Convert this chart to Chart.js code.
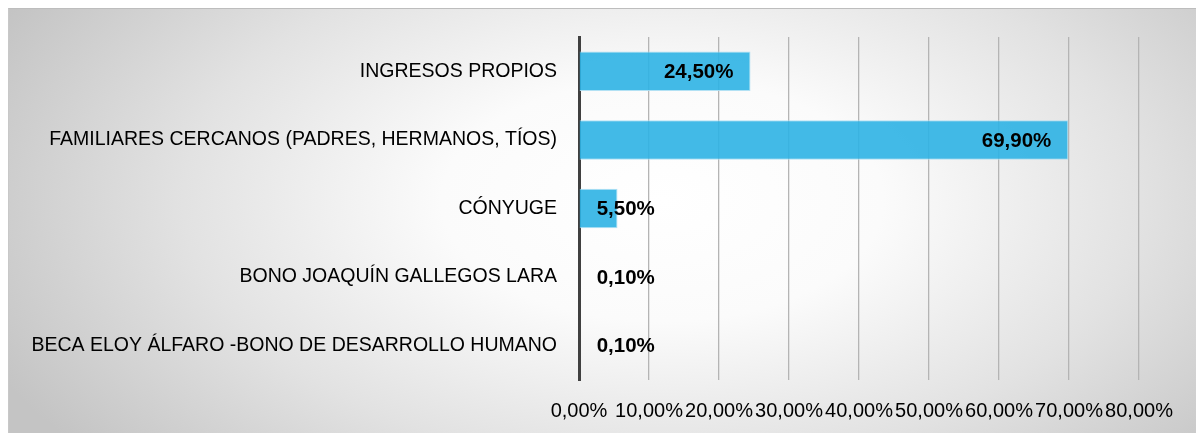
<!DOCTYPE html>
<html>
<head>
<meta charset="utf-8">
<script src="https://cdn.jsdelivr.net/npm/chart.js@4.4.1/dist/chart.umd.min.js"></script>
<style>
  html, body { margin: 0; padding: 0; background: #fff; }
  .wrap { position: relative; width: 1196px; height: 433px; overflow: hidden; }
  .bg {
    position: absolute; left: 8px; top: 8px; width: 1188px; height: 425px;
    border-top: 1px solid #bdbdbd; border-left: 1px solid #c8c8c8;
    background: radial-gradient(ellipse 62% 95% at 55% 45%, #ffffff 0%, #fbfbfb 30%, #e2e2e2 65%, #c4c4c4 100%);
  }
  canvas { position: absolute; left: 0; top: 0; }
</style>
</head>
<body>
<div class="wrap">
  <div class="bg"></div>
  <canvas id="chart" width="1196" height="433"></canvas>
</div>
<script>
const categories = [
  "INGRESOS PROPIOS",
  "FAMILIARES CERCANOS (PADRES, HERMANOS, TÍOS)",
  "CÓNYUGE",
  "BONO JOAQUÍN GALLEGOS LARA",
  "BECA ELOY ÁLFARO -BONO DE DESARROLLO HUMANO"
];
const values = [24.5, 69.9, 5.5, 0.1, 0.1];
const tickValues = [0, 10, 20, 30, 40, 50, 60, 70, 80];

function pct(v) {
  return v.toFixed(2).replace(".", ",") + "%";
}

// labels at inside end, pushed right of the axis when the bar is too short
const barLabels = {
  id: "barLabels",
  afterDatasetsDraw(chart) {
    const ctx = chart.ctx;
    const meta = chart.getDatasetMeta(0);
    ctx.save();
    ctx.font = "bold 20.5px 'Liberation Sans', Arial, sans-serif";
    ctx.fillStyle = "#000";
    ctx.textBaseline = "middle";
    ctx.textAlign = "left";
    meta.data.forEach((bar, i) => {
      const txt = pct(values[i]);
      const w = ctx.measureText(txt).width;
      const left = Math.max(bar.base + 17, bar.x - 17 - w);
      ctx.fillText(txt, left, bar.y + 1);
    });
    ctx.restore();
  }
};

new Chart(document.getElementById("chart"), {
  type: "bar",
  data: {
    labels: categories,
    datasets: [{
      data: values,
      backgroundColor: "rgba(45, 178, 228, 0.9)",
      borderColor: "rgba(170, 222, 243, 0.9)",
      borderWidth: 1,
      barPercentage: 0.576,
      categoryPercentage: 1
    }]
  },
  options: {
    indexAxis: "y",
    responsive: false,
    animation: false,
    layout: { padding: { left: 0, right: 57, top: 37, bottom: 0 } },
    plugins: {
      legend: { display: false },
      tooltip: { enabled: false }
    },
    scales: {
      x: {
        min: 0,
        max: 80,
        afterBuildTicks: scale => { scale.ticks = tickValues.map(v => ({ value: v })); },
        afterFit: scale => { scale.height = 53; },
        grid: { color: "#b4b4b4", lineWidth: 1.3, drawTicks: false },
        border: { display: false },
        ticks: {
          autoSkip: false,
          maxRotation: 0,
          padding: 19,
          color: "#000",
          font: { family: "'Liberation Sans', Arial, sans-serif", size: 20 },
          callback: v => pct(v)
        }
      },
      y: {
        afterFit: scale => { scale.width = 579; },
        grid: { display: false, drawTicks: false },
        border: { display: true, color: "#404040", width: 3 },
        ticks: {
          padding: 22,
          color: "#000",
          font: { family: "'Liberation Sans', Arial, sans-serif", size: 19.5 }
        }
      }
    }
  },
  plugins: [barLabels]
});
</script>
</body>
</html>
